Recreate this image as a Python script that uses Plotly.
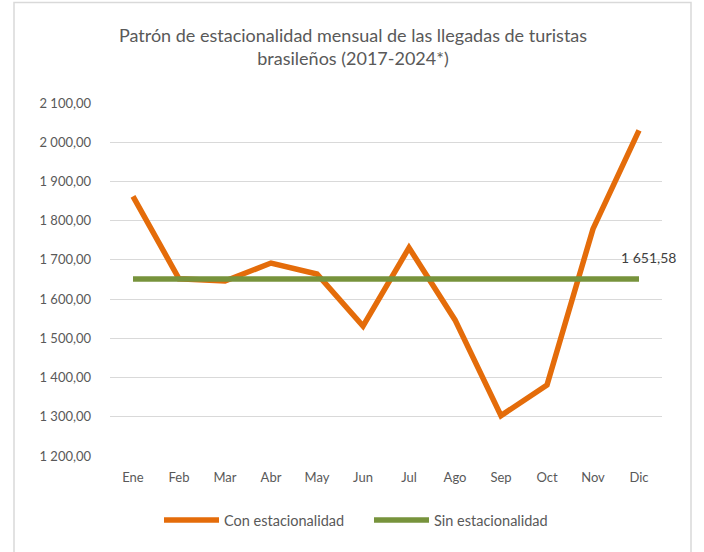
import plotly.graph_objects as go

months = ["Ene", "Feb", "Mar", "Abr", "May", "Jun", "Jul", "Ago", "Sep", "Oct", "Nov", "Dic"]
con_estacionalidad = [1862, 1652, 1646, 1692, 1664, 1531, 1731, 1547, 1303, 1381, 1779, 2030]
promedio = 1651.58
sin_estacionalidad = [promedio] * len(months)

y_min, y_max, y_step = 1200, 2100, 100

font_family = "Lato, 'Open Sans', sans-serif"
grey = "#595959"


def fmt(v):
    s = f"{v:,.2f}"
    return s.replace(",", "X").replace(".", ",").replace("X", " ")


fig = go.Figure()
fig.add_trace(go.Scatter(
    x=months, y=con_estacionalidad, mode="lines", name="Con estacionalidad",
    line=dict(color="#E46C0A", width=5.5),
))
fig.add_trace(go.Scatter(
    x=months, y=sin_estacionalidad, mode="lines", name="Sin estacionalidad",
    line=dict(color="#77933C", width=5.5),
))

fig.add_annotation(
    x=months[-1], y=sin_estacionalidad[-1], text=fmt(sin_estacionalidad[-1]),
    showarrow=False, xanchor="left", yanchor="bottom", xshift=-20, yshift=11,
    font=dict(family=font_family, size=14, color="#404040"),
)

# outer chart border
L, R, T, B = 110, 662, 103.3, 456
W, H = R - L, B - T
fig.add_shape(type="rect", xref="paper", yref="paper",
              x0=(14 - L) / W, x1=(691 - L) / W,
              y0=(B - 570) / H, y1=(B - 3) / H,
              line=dict(color="#D9D9D9", width=1.5), fillcolor="rgba(0,0,0,0)", layer="below")

fig.update_layout(
    width=704, height=552,
    margin=dict(l=L, r=704 - R, t=T, b=552 - B, autoexpand=False),
    paper_bgcolor="white", plot_bgcolor="white",
    separators=", ",
    title=dict(
        text="Patrón de estacionalidad mensual de las llegadas de turistas<br>brasileños (2017-2024*)",
        x=353 / 704, xanchor="center", y=1 - 42 / 552, yanchor="top",
        font=dict(family=font_family, size=18, color=grey),
    ),
    font=dict(family=font_family, size=13, color=grey),
    showlegend=True,
    legend=dict(orientation="h", x=(159 - L) / W, xanchor="left",
                y=(B - 520) / H, yanchor="middle",
                font=dict(family=font_family, size=14.5, color=grey),
                itemwidth=55, entrywidth=140, entrywidthmode="pixels"),
    xaxis=dict(
        type="category", range=[-0.5, len(months) - 0.5], automargin=False,
        showgrid=False, showline=False, ticks="", zeroline=False,
        tickfont=dict(family=font_family, size=13, color=grey),
        ticklabelstandoff=12,
    ),
    yaxis=dict(
        range=[y_min, y_max], dtick=y_step, tick0=y_min, automargin=False,
        tickformat=",.2f",
        showgrid=True, gridcolor="#D9D9D9", gridwidth=1.3,
        zeroline=False, showline=False, ticks="",
        tickfont=dict(family=font_family, size=13, color=grey),
        ticklabelstandoff=18,
    ),
)

fig.write_html("out.html", config={"displayModeBar": False},
               post_script="document.body.style.margin='0';document.body.style.padding='0';")
